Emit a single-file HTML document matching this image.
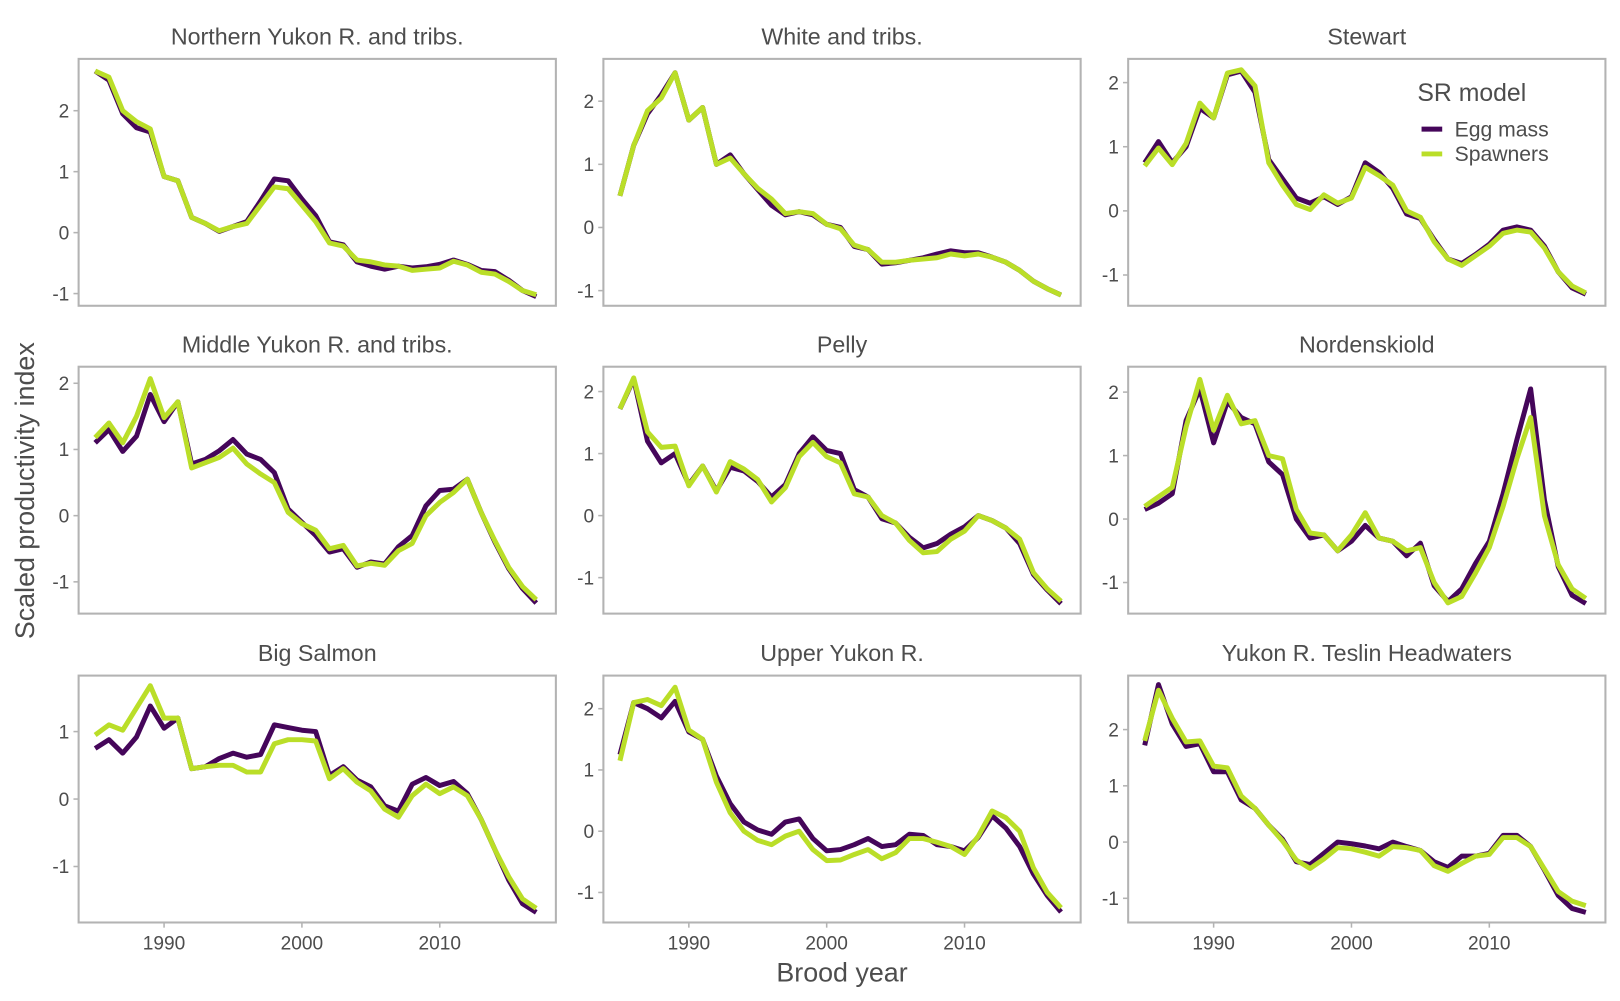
<!DOCTYPE html>
<html><head><meta charset="utf-8"><style>
html,body{margin:0;padding:0;background:#fff;}
svg{display:block;font-family:"Liberation Sans",Arial,sans-serif;}
</style></head><body>
<svg id="chart" width="1620" height="1001" viewBox="0 0 1568 969" xmlns="http://www.w3.org/2000/svg"></svg>
<script>
const years = [];
for (let y = 1985; y <= 2017; y++) years.push(y);
const panelTitles = ["Northern Yukon R. and tribs.","White and tribs.","Stewart","Middle Yukon R. and tribs.","Pelly","Nordenskiold","Big Salmon","Upper Yukon R.","Yukon R. Teslin Headwaters"];
const xTicks = [1990, 2000, 2010];
const yDomainMax = [2.85, 2.67, 2.37, 2.25, 2.4, 2.4, 1.83, 2.54, 2.96];
const yDomainMin = [-1.2, -1.24, -1.48, -1.48, -1.58, -1.49, -1.83, -1.49, -1.43];
const yTicksDefault = [-1, 0, 1, 2];
const yTicksBigSalmon = [-1, 0, 1];
const eggMass = [
[2.65,2.5,1.95,1.72,1.65,0.92,0.85,0.25,0.15,0.02,0.1,0.18,0.52,0.88,0.85,0.55,0.28,-0.15,-0.2,-0.48,-0.55,-0.6,-0.55,-0.58,-0.56,-0.52,-0.45,-0.52,-0.62,-0.64,-0.78,-0.95,-1.05],
[0.5,1.3,1.8,2.1,2.45,1.7,1.9,1.0,1.15,0.85,0.6,0.35,0.2,0.25,0.2,0.05,0.0,-0.3,-0.35,-0.58,-0.56,-0.52,-0.48,-0.42,-0.37,-0.4,-0.4,-0.47,-0.55,-0.68,-0.85,-0.97,-1.07],
[0.75,1.08,0.75,1.0,1.6,1.45,2.12,2.18,1.85,0.8,0.5,0.2,0.12,0.22,0.1,0.22,0.75,0.6,0.35,-0.05,-0.12,-0.45,-0.75,-0.82,-0.68,-0.52,-0.3,-0.25,-0.3,-0.55,-0.95,-1.2,-1.3],
[1.1,1.3,0.97,1.2,1.83,1.42,1.72,0.78,0.85,0.98,1.15,0.93,0.85,0.65,0.1,-0.1,-0.3,-0.55,-0.5,-0.78,-0.7,-0.73,-0.47,-0.3,0.15,0.38,0.4,0.55,0.05,-0.4,-0.8,-1.1,-1.32],
[1.72,2.2,1.2,0.85,1.0,0.5,0.8,0.4,0.78,0.72,0.55,0.3,0.5,1.0,1.27,1.05,1.0,0.42,0.3,-0.05,-0.12,-0.35,-0.52,-0.45,-0.3,-0.18,0.0,-0.08,-0.2,-0.45,-0.95,-1.2,-1.42],
[0.15,0.25,0.4,1.55,2.05,1.2,1.85,1.6,1.5,0.9,0.7,0.0,-0.3,-0.25,-0.5,-0.35,-0.1,-0.3,-0.35,-0.58,-0.38,-1.05,-1.3,-1.1,-0.7,-0.35,0.4,1.25,2.05,0.3,-0.75,-1.2,-1.33],
[0.75,0.88,0.68,0.92,1.38,1.05,1.2,0.45,0.48,0.6,0.68,0.62,0.66,1.1,1.06,1.02,1.0,0.35,0.48,0.28,0.18,-0.1,-0.18,0.22,0.32,0.2,0.26,0.08,-0.3,-0.75,-1.2,-1.55,-1.68],
[1.25,2.1,2.0,1.85,2.12,1.62,1.5,0.9,0.45,0.15,0.02,-0.05,0.15,0.2,-0.12,-0.32,-0.3,-0.22,-0.12,-0.25,-0.22,-0.05,-0.07,-0.22,-0.25,-0.32,-0.1,0.25,0.05,-0.25,-0.7,-1.05,-1.32],
[1.72,2.8,2.1,1.7,1.75,1.25,1.25,0.75,0.6,0.3,0.05,-0.35,-0.4,-0.2,0.0,-0.03,-0.07,-0.12,0.0,-0.08,-0.15,-0.35,-0.45,-0.25,-0.25,-0.2,0.12,0.12,-0.08,-0.5,-0.95,-1.18,-1.25]
];
const spawners = [
[2.65,2.55,2.0,1.82,1.7,0.92,0.85,0.25,0.15,0.03,0.1,0.15,0.45,0.75,0.72,0.45,0.18,-0.17,-0.22,-0.45,-0.48,-0.53,-0.55,-0.62,-0.6,-0.58,-0.47,-0.53,-0.65,-0.68,-0.8,-0.95,-1.02],
[0.5,1.3,1.85,2.05,2.45,1.7,1.9,1.0,1.1,0.85,0.62,0.45,0.22,0.25,0.22,0.05,-0.02,-0.28,-0.35,-0.55,-0.55,-0.52,-0.5,-0.48,-0.42,-0.45,-0.42,-0.47,-0.55,-0.68,-0.85,-0.97,-1.07],
[0.7,0.98,0.72,1.05,1.68,1.45,2.15,2.2,1.95,0.75,0.4,0.1,0.02,0.25,0.12,0.2,0.68,0.55,0.4,0.0,-0.1,-0.48,-0.75,-0.85,-0.7,-0.55,-0.35,-0.3,-0.33,-0.58,-0.95,-1.17,-1.28],
[1.18,1.4,1.1,1.5,2.07,1.48,1.72,0.72,0.8,0.88,1.02,0.78,0.63,0.5,0.05,-0.12,-0.22,-0.5,-0.45,-0.76,-0.72,-0.75,-0.53,-0.42,0.0,0.2,0.35,0.55,0.05,-0.38,-0.78,-1.07,-1.27],
[1.72,2.22,1.35,1.1,1.12,0.48,0.8,0.38,0.87,0.75,0.58,0.22,0.45,0.95,1.18,0.95,0.85,0.35,0.3,0.0,-0.12,-0.4,-0.6,-0.58,-0.38,-0.25,0.0,-0.08,-0.2,-0.38,-0.92,-1.18,-1.38],
[0.2,0.35,0.5,1.45,2.2,1.4,1.95,1.5,1.55,1.0,0.95,0.15,-0.22,-0.25,-0.5,-0.25,0.1,-0.3,-0.35,-0.5,-0.45,-1.0,-1.32,-1.22,-0.85,-0.45,0.2,0.95,1.6,0.05,-0.72,-1.1,-1.25],
[0.95,1.1,1.02,1.35,1.68,1.2,1.2,0.45,0.48,0.5,0.5,0.4,0.4,0.82,0.88,0.88,0.86,0.3,0.45,0.25,0.12,-0.15,-0.27,0.05,0.22,0.08,0.18,0.05,-0.3,-0.75,-1.15,-1.48,-1.62],
[1.15,2.1,2.15,2.05,2.35,1.65,1.5,0.8,0.3,0.0,-0.15,-0.22,-0.08,0.0,-0.3,-0.48,-0.47,-0.38,-0.3,-0.45,-0.35,-0.12,-0.12,-0.18,-0.25,-0.38,-0.08,0.33,0.22,0.0,-0.6,-1.0,-1.25],
[1.8,2.7,2.2,1.78,1.8,1.35,1.32,0.82,0.6,0.3,0.02,-0.32,-0.47,-0.3,-0.1,-0.12,-0.18,-0.25,-0.08,-0.1,-0.15,-0.42,-0.52,-0.38,-0.25,-0.22,0.08,0.08,-0.08,-0.48,-0.88,-1.05,-1.13]
];
const legendLabels = ["Egg mass","Spawners"];

const NS = "http://www.w3.org/2000/svg";
const svg = document.getElementById("chart");
const EGG = "#45065a", SPAWN = "#bade28", TXT = "#4d4d4d", BORDER = "#b3b3b3";
const colX = [76, 584, 1092], rowY = [57, 355, 654], PW = 462, PH = 239;
function el(tag, attrs, parent) { const e = document.createElementNS(NS, tag); for (const k in attrs) e.setAttribute(k, attrs[k]); (parent || svg).appendChild(e); return e; }
function xScale(yr, x0) { return x0 + 16 + (yr - 1985) / 32 * (PW - 35); }

for (let p = 0; p < 9; p++) {
  const x0 = colX[p % 3], y0 = rowY[Math.floor(p / 3)];
  const g = el("g", {});
  
  
  const yScale = v => y0 + (yDomainMax[p] - v) / (yDomainMax[p] - yDomainMin[p]) * PH;
  const t = el("text", {x: x0 + PW / 2, y: y0 - 14, "text-anchor": "middle", "font-size": 22.5, fill: TXT}, g);
  t.textContent = panelTitles[p];
  
  
  const ticks = p === 6 ? yTicksBigSalmon : yTicksDefault;
  ticks.forEach(v => {
    const yy = yScale(v);
    const tl = el("line", {x1: x0 - 5, x2: x0, y1: yy, y2: yy, stroke: BORDER, "stroke-width": 1.5}, g);
    
    
    const tt = el("text", {x: x0 - 9, y: yy + 6.5, "text-anchor": "end", "font-size": 18.5, fill: TXT}, g);
    tt.textContent = String(v);
    
    
  });
  if (p >= 6) {
    xTicks.forEach(v => {
      const xx = xScale(v, x0);
      const tl = el("line", {x1: xx, x2: xx, y1: y0 + PH, y2: y0 + PH + 5, stroke: BORDER, "stroke-width": 1.5}, g);
      
      
      const tt = el("text", {x: xx, y: y0 + PH + 26, "text-anchor": "middle", "font-size": 18.5, fill: TXT}, g);
      tt.textContent = String(v);
      
      
    });
  }
  [[eggMass[p], EGG, 'egg-mass-line'], [spawners[p], SPAWN, 'spawners-line']].forEach(([vals, col, nm]) => {
    const d = vals.map((v, i) => (i ? "L" : "M") + xScale(years[i], x0).toFixed(2) + "," + yScale(v).toFixed(2)).join("");
    const pa = el("path", {d: d, fill: "none", stroke: col, "stroke-width": 4.8, "stroke-linejoin": "round"}, g);
    
    
  });
  const fr = el("rect", {x: x0, y: y0, width: PW, height: PH, fill: "none", stroke: BORDER, "stroke-width": 2}, g);
  
  
}

const xt = el("text", {x: 815, y: 950, "text-anchor": "middle", "font-size": 26, fill: TXT});
xt.textContent = "Brood year";


const yt = el("text", {x: 0, y: 0, transform: "translate(33,475) rotate(-90)", "text-anchor": "middle", "font-size": 26, fill: TXT});
yt.textContent = "Scaled productivity index";



const lg = el("g", {});


const lt = el("text", {x: 1372, y: 98, "font-size": 24, fill: TXT}, lg);
lt.textContent = "SR model";


[EGG, SPAWN].forEach((c, i) => {
  const yy = 125 + i * 24;
  const ln = el("line", {x1: 1376, x2: 1396, y1: yy, y2: yy, stroke: c, "stroke-width": 4.8}, lg);
  
  
  const tx = el("text", {x: 1408, y: yy + 7, "font-size": 20.5, fill: TXT}, lg);
  tx.textContent = legendLabels[i];
  
  
});
</script>
</body></html>
